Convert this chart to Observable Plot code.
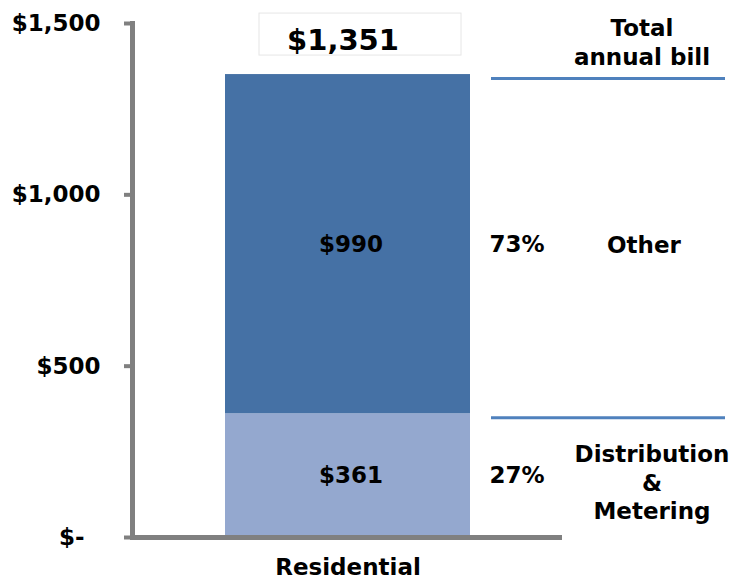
<!DOCTYPE html>
<html>
<head>
<meta charset="utf-8">
<script src="https://cdn.jsdelivr.net/npm/d3@7"></script>
<script src="https://cdn.jsdelivr.net/npm/@observablehq/plot@0.6"></script>
<style>
  html, body { margin: 0; padding: 0; background: #fff; }
</style>
</head>
<body>
<div id="chart"></div>
<script>
const categories = ["Residential"];
const components = ["Distribution & Metering", "Other"];
const values = [361, 990];
const valueLabels = ["$361", "$990"];
const shares = ["27%", "73%"];
const componentLabels = ["Distribution\n&\nMetering", "Other"];
const total = 1351;
const totalLabel = "$1,351";
const totalCaption = "Total\nannual bill";
const yTicks = [0, 500, 1000, 1500];
const colors = ["#94a8cf", "#4571a5"];

let acc = 0;
const data = components.map((c, i) => {
  const y1 = acc;
  acc += values[i];
  return {category: categories[0], component: c, value: values[i], y1, y2: acc, mid: (y1 + acc) / 2,
          label: valueLabels[i], share: shares[i], name: componentLabels[i]};
});
const totals = [{category: categories[0], total, label: totalLabel, caption: totalCaption}];
const lineLevels = [{category: categories[0], y: total}, {category: categories[0], y: values[0]}];

const chart = Plot.plot({
  width: 730,
  height: 579,
  marginLeft: 132,
  marginRight: 168,
  marginTop: 23,
  marginBottom: 42,
  style: {fontFamily: "'DejaVu Sans', Verdana, sans-serif", fontWeight: "bold", fontSize: "23px", color: "#000", background: "#fff"},
  x: {type: "band", domain: categories, padding: 0.274},
  y: {domain: [0, 1500]},
  color: {domain: components, range: colors},
  marks: [
    Plot.barY(data, {x: "category", y1: "y1", y2: "y2", fill: "component"}),
    Plot.ruleY([0], {stroke: "#808080", strokeWidth: 5}),
    Plot.frame({anchor: "left", stroke: "#808080", strokeWidth: 5}),
    Plot.axisY({ticks: yTicks, tickFormat: d => d === 0 ? "$-\u00a0\u00a0" : d3.format("$,")(d),
      tickSize: 8, tickPadding: 24, stroke: "#808080", strokeWidth: 4, fill: "#000", fontSize: 23, label: null}),
    Plot.axisX({tickSize: 0, tickPadding: 21, fontSize: 23, fill: "#000", label: null}),
    Plot.text(data, {x: "category", y: "mid", text: "label", dx: 3, fontSize: 23, fill: "#000"}),
    Plot.text(data, {x: "category", y: "mid", text: "share", dx: 169, fontSize: 23, fill: "#000"}),
    Plot.text(data, {x: "category", y: "mid", text: "name", fontSize: 23, fill: "#000", lineHeight: 1.23,
      filter: d => d.component === "Other", dx: 296}),
    Plot.text(data, {x: "category", y: "mid", text: "name", fontSize: 23, fill: "#000", lineHeight: 1.23,
      filter: d => d.component !== "Other", dx: 304, dy: 6}),
    Plot.tickY(lineLevels, {x: "category", y: "y", stroke: "#4f81bd", strokeWidth: 3, dx: 266, dy: 4, insetRight: 11}),
    Plot.barY(totals, {x: "category", y1: "total", y2: "total", fill: "none", stroke: "#e6e6e6", strokeWidth: 1,
      insetTop: -61, insetBottom: 19, insetLeft: 34, insetRight: 9}),
    Plot.text(totals, {x: "category", y: "total", text: "label", dx: -5, dy: -34, fontSize: 29, fill: "#000"}),
    Plot.text(totals, {x: "category", y: "total", text: "caption", dx: 294, dy: -33, fontSize: 23, fill: "#000", lineHeight: 1.23})
  ]
});
document.getElementById("chart").appendChild(chart);
</script>
</body>
</html>
